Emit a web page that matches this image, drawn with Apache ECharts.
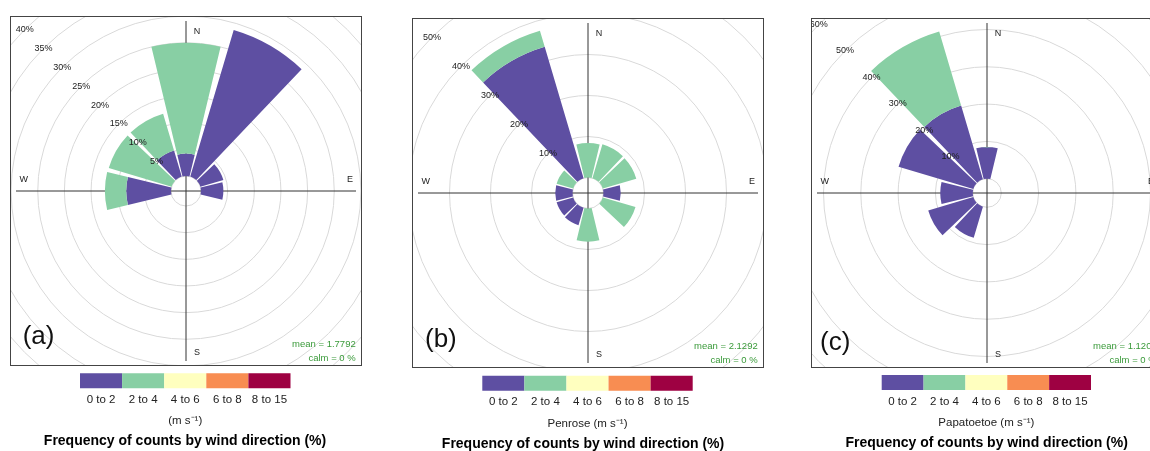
<!DOCTYPE html>
<html><head><meta charset="utf-8">
<script src="https://cdn.jsdelivr.net/npm/echarts@6/dist/echarts.min.js"></script>
<style>
html,body{margin:0;padding:0;background:#fff;width:1150px;height:451px;overflow:hidden;position:relative}
#legend{position:absolute;left:0;top:0;width:1150px;height:451px}
.frame{position:absolute;width:352px;height:350px;box-sizing:border-box;border:1px solid #444;overflow:hidden;background:#fff}
.frame>div{width:350px;height:348px}
</style></head><body>
<div id="legend"></div>
<div class="frame" style="left:10px;top:16px"><div id="pa"></div></div>
<div class="frame" style="left:412px;top:18px"><div id="pb"></div></div>
<div class="frame" style="left:811px;top:18px"><div id="pc"></div></div>
<script>
// ---------- data ----------
const DIRECTIONS_DEG = [0, 30, 60, 90, 120, 150, 180, 210, 240, 270, 300, 330];
const SPEED_BINS = ['0 to 2', '2 to 4', '4 to 6', '6 to 8', '8 to 15'];
const SPEED_COLORS = ['#5E4FA2', '#88CFA4', '#FFFFBF', '#F88D52', '#9E0142'];
const COMPASS = ['N', 'E', 'S', 'W'];

// frequency (%) per direction, stacked by speed bin
const A_0TO2 = [4.2, 28.7, 4.5, 4.2, 0, 0, 0, 0, 0, 8.4, 0, 5.1];
const A_2TO4 = [20.8, 0, 0, 0, 0, 0, 0, 0, 0, 4.0, 12.3, 7.2];
const B_0TO2 = [0, 0, 0, 4.2, 0, 0, 0, 4.4, 4.2, 4.2, 0, 33.4];
const B_2TO4 = [8.4, 8.6, 8.5, 0, 8.3, 0, 8.1, 0, 0, 0, 4.2, 4.1];
const C_0TO2 = [8.5, 0, 0, 0, 0, 0, 0, 8.7, 12.6, 8.7, 20.9, 20.6];
const C_2TO4 = [0, 0, 0, 0, 0, 0, 0, 0, 0, 0, 0, 20.7];

// ring (tick) scale per panel
const RING_MAX = [40, 50, 60];
const RING_STEP = [5, 10, 10];

const PANEL_TAGS = ['(a)', '(b)', '(c)'];
const SITE_NAMES = ['', 'Penrose ', 'Papatoetoe '];
const MEAN_SPEED = ['1.7792', '2.1292', '1.1204'];
const CALM_PCT = ['0', '0', '0'];
const TITLE_TEXT = 'Frequency of counts by wind direction (%)';

// ---------- layout (pixels) ----------
const FONT = '"Liberation Sans", Arial, Helvetica, sans-serif';
const HOLE = [15, 15.5, 14.3];          // inner hole radius
const PX_PER_PCT = [5.33, 4.1, 3.73];   // radial scale
const LEG = [
  {left: 80, top: 373.3, width: 210.5, titleX: 185, titleY: 441},
  {left: 482.3, top: 375.7, width: 210.4, titleX: 583, titleY: 444},
  {left: 881.7, top: 375, width: 209.3, titleX: 986.7, titleY: 443.3}
];
const TAG_POS = [[11.7, 320], [12, 321], [8, 324]];

function panelOption(i, s02, s24) {
  const rOut = HOLE[i] + PX_PER_PCT[i] * RING_MAX[i];
  const center = ['50%', '50%'];
  const green = '#3a9a3a';
  return {
    animation: false,
    textStyle: {fontFamily: FONT},
    polar: [
      {center, radius: [HOLE[i], rOut]},
      {center, radius: [HOLE[i], rOut]},
      {center, radius: [0, 170]}
    ],
    angleAxis: [
      {polarIndex: 0, type: 'category', data: DIRECTIONS_DEG, startAngle: 105, clockwise: true,
       boundaryGap: true, axisLine: {show: false}, axisTick: {show: false},
       axisLabel: {show: false}, splitLine: {show: false}},
      {polarIndex: 1, type: 'value', min: 0, max: 360, startAngle: 135, show: false},
      {polarIndex: 2, type: 'value', min: 0, max: 360, interval: 90, startAngle: 90, clockwise: true, z: 1,
       axisLine: {show: false}, axisTick: {show: false},
       splitLine: {show: true, lineStyle: {color: '#333', width: 1}},
       axisLabel: {
         margin: -15, fontSize: 9, color: '#222', fontFamily: FONT,
         formatter: v => { const k = Math.round(v / 90); return k < COMPASS.length ? '{c' + k + '|' + COMPASS[k] + '}' : ''; },
         rich: {
           c0: {padding: [0, 0, 0, 22]},
           c1: {padding: [0, 0, 22, 6]},
           c2: {padding: [2, 0, 0, 22]},
           c3: {padding: [0, 3, 22, 0]}
         }
       }}
    ],
    radiusAxis: [
      {polarIndex: 0, type: 'value', min: 0, max: RING_MAX[i], interval: RING_STEP[i], z: 0,
       axisLine: {show: false}, axisTick: {show: false}, axisLabel: {show: false},
       splitLine: {show: true, lineStyle: {color: '#d9d9d9', width: 1}}},
      {polarIndex: 1, type: 'value', min: 0, max: RING_MAX[i], interval: RING_STEP[i], z: 10,
       axisLine: {show: false}, axisTick: {show: false}, splitLine: {show: false},
       axisLabel: {show: true, margin: 0, align: 'center', verticalAlign: 'middle', showMinLabel: false,
                   formatter: '{value}%', fontSize: 9, color: '#222', fontFamily: FONT}},
      {polarIndex: 2, type: 'value', min: 0, max: 1, show: false}
    ],
    title: [
      {text: PANEL_TAGS[i], left: TAG_POS[i][0], top: TAG_POS[i][1], padding: 0, textVerticalAlign: 'middle',
       textStyle: {fontSize: 26, fontWeight: 'normal', color: '#111', fontFamily: FONT}},
      {text: 'mean = ' + MEAN_SPEED[i], left: 344.7, top: 327.5, padding: 0, textAlign: 'right', textVerticalAlign: 'middle',
       textStyle: {fontSize: 9.5, fontWeight: 'normal', color: green, fontFamily: FONT}},
      {text: 'calm = ' + CALM_PCT[i] + ' %', left: 344.7, top: 341.5, padding: 0, textAlign: 'right', textVerticalAlign: 'middle',
       textStyle: {fontSize: 9.5, fontWeight: 'normal', color: green, fontFamily: FONT}}
    ],
    series: [
      {name: SPEED_BINS[0], type: 'bar', coordinateSystem: 'polar', polarIndex: 0, stack: 'ws',
       data: s02, barCategoryGap: '10%', itemStyle: {color: SPEED_COLORS[0]}, z: 2, silent: true},
      {name: SPEED_BINS[1], type: 'bar', coordinateSystem: 'polar', polarIndex: 0, stack: 'ws',
       data: s24, barCategoryGap: '10%', itemStyle: {color: SPEED_COLORS[1]}, z: 2, silent: true}
    ]
  };
}

const panels = [['pa', A_0TO2, A_2TO4], ['pb', B_0TO2, B_2TO4], ['pc', C_0TO2, C_2TO4]];
panels.forEach((p, i) => {
  const chart = echarts.init(document.getElementById(p[0]), null, {renderer: 'canvas'});
  chart.setOption(panelOption(i, p[1], p[2]));
});

// ---------- legends / titles ----------
const legendChart = echarts.init(document.getElementById('legend'), null, {renderer: 'canvas'});
const LEGEND_FILL = SPEED_BINS.map(() => 1);
legendChart.setOption({
  animation: false,
  textStyle: {fontFamily: FONT},
  grid: LEG.map(l => ({left: l.left, top: l.top, width: l.width, height: 15, containLabel: false})),
  xAxis: LEG.map((l, i) => ({
    gridIndex: i, type: 'category', data: SPEED_BINS,
    axisLine: {show: false}, axisTick: {show: false}, splitLine: {show: false},
    axisLabel: {margin: 5.5, fontSize: 11.5, color: '#222', fontFamily: FONT, interval: 0},
    name: SITE_NAMES[i] + '(m s\u207B\u00B9)', nameLocation: 'middle', nameGap: 27,
    nameTextStyle: {fontSize: 11.5, color: '#222', fontFamily: FONT}
  })),
  yAxis: LEG.map((l, i) => ({gridIndex: i, type: 'value', min: 0, max: 1, show: false})),
  series: LEG.map((l, i) => ({
    type: 'bar', xAxisIndex: i, yAxisIndex: i, barCategoryGap: 0, silent: true,
    data: LEGEND_FILL.map((v, j) => ({value: v, itemStyle: {color: SPEED_COLORS[j]}}))
  })),
  title: LEG.map(l => ({
    text: TITLE_TEXT, left: l.titleX, top: l.titleY, padding: 0, textAlign: 'center', textVerticalAlign: 'middle',
    textStyle: {fontSize: 14, fontWeight: 'bold', color: '#000', fontFamily: FONT}
  }))
});
</script>
</body></html>
